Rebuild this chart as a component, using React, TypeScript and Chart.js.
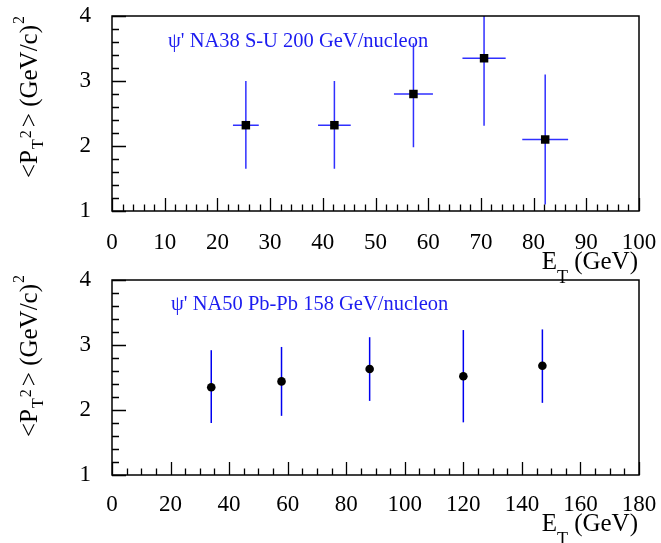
import React, { useEffect, useRef } from 'react';
import { Chart, registerables } from 'chart.js';

Chart.register(...registerables);

// ---------- Data ----------
// Top panel: psi' NA38 S-U 200 GeV/nucleon
const topEt = [25.4, 42.2, 57.2, 70.6, 82.2];
const topEtErr = [2.45, 3.1, 3.7, 4.1, 4.35];
const topPt2 = [2.32, 2.32, 2.8, 3.35, 2.1];
const topPt2ErrUp = [0.68, 0.68, 0.78, 1.04, 1.0];
const topPt2ErrDown = [0.67, 0.67, 0.82, 1.04, 1.0];

// Bottom panel: psi' NA50 Pb-Pb 158 GeV/nucleon
const botEt = [33.9, 57.9, 88.0, 120.0, 147.0];
const botEtErr = [0, 0, 0, 0, 0];
const botPt2 = [2.35, 2.44, 2.63, 2.52, 2.68];
const botPt2ErrUp = [0.57, 0.53, 0.49, 0.71, 0.56];
const botPt2ErrDown = [0.55, 0.53, 0.49, 0.71, 0.57];

// Axes
const yRange = [1, 4];
const yMajorStep = 1;
const yMinorStep = 0.2;
const topXRange = [0, 100];
const topXMajorStep = 10;
const topXMinorStep = 2;
const botXRange = [0, 180];
const botXMajorStep = 20;
const botXMinorStep = 5;

const topLabel = "\u03c8' NA38 S-U 200 GeV/nucleon";
const botLabel = "\u03c8' NA50 Pb-Pb 158 GeV/nucleon";

const SERIF = "'Liberation Serif', 'DejaVu Serif', serif";

type Part = { t: string; s: number; dy: number; gap?: number };

function drawRich(ctx: CanvasRenderingContext2D, parts: Part[], size: number, alignRight: boolean) {
  const widths = parts.map((p) => {
    ctx.font = `${size * p.s}px ${SERIF}`;
    return ctx.measureText(p.t).width;
  });
  let total = 0;
  parts.forEach((p, i) => { total += widths[i] + (p.gap || 0); });
  let x = alignRight ? -total : 0;
  ctx.textAlign = 'left';
  ctx.textBaseline = 'alphabetic';
  parts.forEach((p, i) => {
    x += p.gap || 0;
    ctx.font = `${size * p.s}px ${SERIF}`;
    ctx.fillText(p.t, x, p.dy);
    x += widths[i];
  });
}

const yTitleParts: Part[] = [
  { t: '<P', s: 1, dy: 0 },
  { t: 'T', s: 0.64, dy: 5.7, gap: 1 },
  { t: '2', s: 0.64, dy: -6.6, gap: 1 },
  { t: '> (GeV/c)', s: 1, dy: 0, gap: 3 },
  { t: '2', s: 0.64, dy: -13.3, gap: 1 },
];
const xTitleParts: Part[] = [
  { t: 'E', s: 1, dy: 0 },
  { t: 'T', s: 0.72, dy: 14, gap: 0 },
  { t: ' (GeV)', s: 1, dy: 0 },
];

const rootPlugin = {
  id: 'rootFrame',
  beforeDatasetsDraw(chart: any, _args: any, o: any) {
    const ctx: CanvasRenderingContext2D = chart.ctx;
    const { left, right, top, bottom } = chart.chartArea;
    const xs = chart.scales.x;
    const ys = chart.scales.y;
    ctx.save();
    ctx.beginPath();
    ctx.rect(left, top, right - left, bottom - top);
    ctx.clip();
    ctx.strokeStyle = o.errColor;
    ctx.lineWidth = 1.5;
    for (let i = 0; i < o.x.length; i++) {
      const px = xs.getPixelForValue(o.x[i]);
      const py = ys.getPixelForValue(o.y[i]);
      ctx.beginPath();
      ctx.moveTo(px, ys.getPixelForValue(o.y[i] + o.yUp[i]));
      ctx.lineTo(px, ys.getPixelForValue(o.y[i] - o.yDown[i]));
      if (o.xErr[i] > 0) {
        ctx.moveTo(xs.getPixelForValue(o.x[i] - o.xErr[i]), py);
        ctx.lineTo(xs.getPixelForValue(o.x[i] + o.xErr[i]), py);
      }
      ctx.stroke();
    }
    ctx.restore();
  },
  afterDraw(chart: any, _args: any, o: any) {
    const ctx: CanvasRenderingContext2D = chart.ctx;
    const { left, right, top, bottom } = chart.chartArea;
    const xs = chart.scales.x;
    const ys = chart.scales.y;
    ctx.save();
    ctx.strokeStyle = '#000';
    ctx.lineWidth = 1.3;
    // x ticks (inside, from bottom)
    const xCount = Math.round((xs.max - xs.min) / o.xMinor);
    ctx.beginPath();
    for (let k = 0; k <= xCount; k++) {
      const v = xs.min + k * o.xMinor;
      const r = (v - xs.min) / o.xMajor;
      const major = Math.abs(r - Math.round(r)) < 1e-6;
      const px = Math.round(xs.getPixelForValue(v)) + 0.5;
      ctx.moveTo(px, bottom);
      ctx.lineTo(px, bottom - (major ? 13 : 6.5));
    }
    // y ticks (inside, from left)
    const yCount = Math.round((ys.max - ys.min) / o.yMinor);
    for (let k = 0; k <= yCount; k++) {
      const v = ys.min + k * o.yMinor;
      const r = (v - ys.min) / o.yMajor;
      const major = Math.abs(r - Math.round(r)) < 1e-6;
      const py = Math.round(ys.getPixelForValue(v)) + 0.5;
      ctx.moveTo(left, py);
      ctx.lineTo(left + (major ? 14 : 7), py);
    }
    ctx.stroke();
    // frame
    ctx.lineWidth = 1.5;
    ctx.strokeRect(left, top, right - left, bottom - top);

    // annotation text
    ctx.fillStyle = o.textColor;
    ctx.font = `20.5px ${SERIF}`;
    ctx.textAlign = 'left';
    ctx.textBaseline = 'alphabetic';
    ctx.fillText(o.label, left + o.labelDx, top + o.labelDy);

    // x title
    ctx.fillStyle = '#000';
    ctx.save();
    ctx.translate(right - 1, bottom + o.xTitleDy);
    drawRich(ctx, xTitleParts, 25, true);
    ctx.restore();

    // y title (rotated), starts at its bottom end
    ctx.save();
    ctx.translate(37.3, top + o.yTitleStart);
    ctx.rotate(-Math.PI / 2);
    drawRich(ctx, yTitleParts, 25, false);
    ctx.restore();
    ctx.restore();
  },
};

type Panel = {
  x: number[]; xErr: number[]; y: number[]; yUp: number[]; yDown: number[];
  xRange: number[]; xMajor: number; xMinor: number;
  marker: string; markerRadius: number; errColor: string;
  label: string; labelDx: number; labelDy: number;
  padTop: number; bottomPx: number; xTitleDy: number; yTitleStart: number; xLabelPad: number;
};

function zeroPad(s: any) {
  s.paddingTop = 0;
  s.paddingBottom = 0;
  s.paddingLeft = 0;
  s.paddingRight = 0;
}

function makeConfig(p: Panel): any {
  return {
    type: 'scatter',
    data: {
      datasets: [
        {
          data: p.x.map((v, i) => ({ x: v, y: p.y[i] })),
          pointStyle: p.marker,
          pointRadius: p.markerRadius,
          pointBackgroundColor: '#000',
          pointBorderColor: '#000',
          pointBorderWidth: 0,
          showLine: false,
        },
      ],
    },
    options: {
      animation: false,
      responsive: false,
      devicePixelRatio: 1,
      events: [],
      layout: { padding: { left: 0, right: 22, top: p.padTop, bottom: 0 } },
      plugins: {
        legend: { display: false },
        tooltip: { enabled: false },
        rootFrame: {
          x: p.x, xErr: p.xErr, y: p.y, yUp: p.yUp, yDown: p.yDown,
          errColor: p.errColor, textColor: '#1c1cf0',
          xMajor: p.xMajor, xMinor: p.xMinor, yMajor: yMajorStep, yMinor: yMinorStep,
          label: p.label, labelDx: p.labelDx, labelDy: p.labelDy,
          xTitleDy: p.xTitleDy, yTitleStart: p.yTitleStart,
        },
      },
      scales: {
        x: {
          type: 'linear',
          min: p.xRange[0],
          max: p.xRange[1],
          grid: { display: false, drawTicks: false },
          border: { display: false },
          ticks: {
            stepSize: p.xMajor,
            autoSkip: false,
            maxRotation: 0,
            padding: p.xLabelPad,
            color: '#000',
            font: { family: SERIF, size: 23 },
          },
          afterFit: (s: any) => { s.height = 543 - p.bottomPx; zeroPad(s); },
        },
        y: {
          type: 'linear',
          min: yRange[0],
          max: yRange[1],
          grid: { display: false, drawTicks: false },
          border: { display: false },
          ticks: {
            stepSize: yMajorStep,
            padding: 21,
            color: '#000',
            font: { family: SERIF, size: 23 },
          },
          afterFit: (s: any) => { s.width = 112; zeroPad(s); },
        },
      },
    },
    plugins: [rootPlugin],
  };
}

const topPanel: Panel = {
  x: topEt, xErr: topEtErr, y: topPt2, yUp: topPt2ErrUp, yDown: topPt2ErrDown,
  xRange: topXRange, xMajor: topXMajorStep, xMinor: topXMinorStep,
  marker: 'rect', markerRadius: 6, errColor: '#3030ff',
  label: topLabel, labelDx: 56, labelDy: 30.7,
  padTop: 16, bottomPx: 211, xTitleDy: 58, yTitleStart: 162, xLabelPad: 18,
};
const botPanel: Panel = {
  x: botEt, xErr: botEtErr, y: botPt2, yUp: botPt2ErrUp, yDown: botPt2ErrDown,
  xRange: botXRange, xMajor: botXMajorStep, xMinor: botXMinorStep,
  marker: 'circle', markerRadius: 4.3, errColor: '#0000f0',
  label: botLabel, labelDx: 59, labelDy: 29.6,
  padTop: 280, bottomPx: 475, xTitleDy: 56, yTitleStart: 157, xLabelPad: 16,
};

function PanelCanvas({ panel }: { panel: Panel }) {
  const ref = useRef<HTMLCanvasElement | null>(null);
  useEffect(() => {
    if (!ref.current) return;
    const chart = new Chart(ref.current, makeConfig(panel));
    return () => chart.destroy();
  }, [panel]);
  return (
    <canvas
      ref={ref}
      width={661}
      height={543}
      style={{ position: 'absolute', left: 0, top: 0, width: 661, height: 543 }}
    />
  );
}

export default function App() {
  return (
    <div style={{ position: 'fixed', left: 0, top: 0, width: 661, height: 543, background: '#fff' }}>
      <PanelCanvas panel={topPanel} />
      <PanelCanvas panel={botPanel} />
    </div>
  );
}
